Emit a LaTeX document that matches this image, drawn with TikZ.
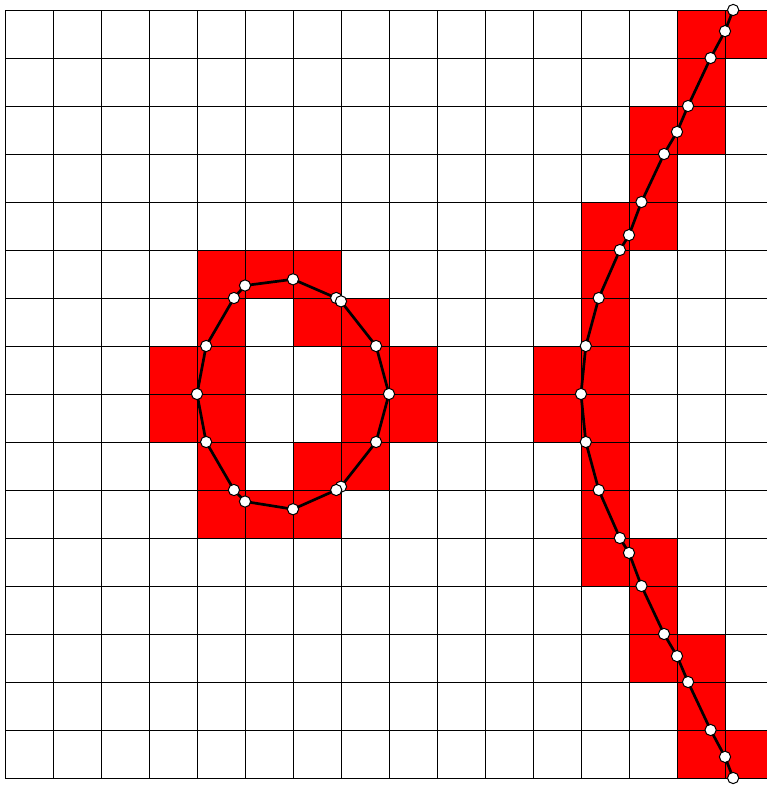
\documentclass[tikz,border=0pt]{standalone}
\begin{document}
\begin{tikzpicture}[x=1cm,y=-1cm,
  cell/.style={fill={rgb,255:red,255;green,0;blue,0}},
  gridline/.style={line width=0.45pt,draw=black},
  curve/.style={line width=1.6pt,draw=black,line join=round},
  pt/.style={circle,draw=black,fill=white,line width=0.6pt,minimum size=0.235cm,inner sep=0pt}]
\useasboundingbox (-0.1042,-0.2083) rectangle (15.875,16.146);
% red cells
\foreach \c/\r in {4/5,5/5,6/5,4/6,6/6,7/6,3/7,4/7,7/7,8/7,3/8,4/8,7/8,8/8,4/9,6/9,7/9,4/10,5/10,6/10,
  14/0,15/0,14/1,13/2,14/2,13/3,12/4,13/4,12/5,12/6,11/7,12/7,11/8,12/8,12/9,12/10,12/11,13/11,13/12,13/13,14/13,14/14,14/15,15/15}
  \fill[cell] (\c,\r) rectangle ++(1,1);
% grid
\foreach \i in {0,...,16} {
  \draw[gridline] (\i,0) -- (\i,16);
  \draw[gridline] (0,\i) -- (16,\i);
}
% ellipse points
\coordinate (E1) at (6,5.61);
\coordinate (E2) at (6.9,6);
\coordinate (E3) at (7,6.07);
\coordinate (E4) at (7.73,7);
\coordinate (E5) at (8,8);
\coordinate (E6) at (7.73,9);
\coordinate (E7) at (7,9.93);
\coordinate (E8) at (6.9,10);
\coordinate (E9) at (6,10.4);
\coordinate (E10) at (5,10.24);
\coordinate (E11) at (4.77,10);
\coordinate (E12) at (4.19,9);
\coordinate (E13) at (4,8);
\coordinate (E14) at (4.19,7);
\coordinate (E15) at (4.77,6);
\coordinate (E16) at (5,5.74);
\draw[curve] (E1) -- (E2) -- (E3) -- (E4) -- (E5) -- (E6) -- (E7) -- (E8) -- (E9) -- (E10) -- (E11) -- (E12) -- (E13) -- (E14) -- (E15) -- (E16) -- cycle;
% right curve points
\coordinate (R1) at (15.17,0);
\coordinate (R2) at (15,0.44);
\coordinate (R3) at (14.7,1);
\coordinate (R4) at (14.23,2);
\coordinate (R5) at (14,2.54);
\coordinate (R6) at (13.73,3);
\coordinate (R7) at (13.26,4);
\coordinate (R8) at (13,4.69);
\coordinate (R9) at (12.81,5);
\coordinate (R10) at (12.37,6);
\coordinate (R11) at (12.1,7);
\coordinate (R12) at (12,8);
\coordinate (R13) at (12.1,9);
\coordinate (R14) at (12.37,10);
\coordinate (R15) at (12.81,11);
\coordinate (R16) at (13,11.31);
\coordinate (R17) at (13.26,12);
\coordinate (R18) at (13.73,13);
\coordinate (R19) at (14,13.46);
\coordinate (R20) at (14.23,14);
\coordinate (R21) at (14.7,15);
\coordinate (R22) at (15,15.56);
\coordinate (R23) at (15.17,16);
\draw[curve] (R1) -- (R2) -- (R3) -- (R4) -- (R5) -- (R6) -- (R7) -- (R8) -- (R9) -- (R10) -- (R11) -- (R12) -- (R13) -- (R14) -- (R15) -- (R16) -- (R17) -- (R18) -- (R19) -- (R20) -- (R21) -- (R22) -- (R23);
% markers
\foreach \i in {1,...,16} \node[pt] (e\i) at (E\i) {};
\foreach \i in {1,...,23} \node[pt] (r\i) at (R\i) {};
\end{tikzpicture}
\end{document}
